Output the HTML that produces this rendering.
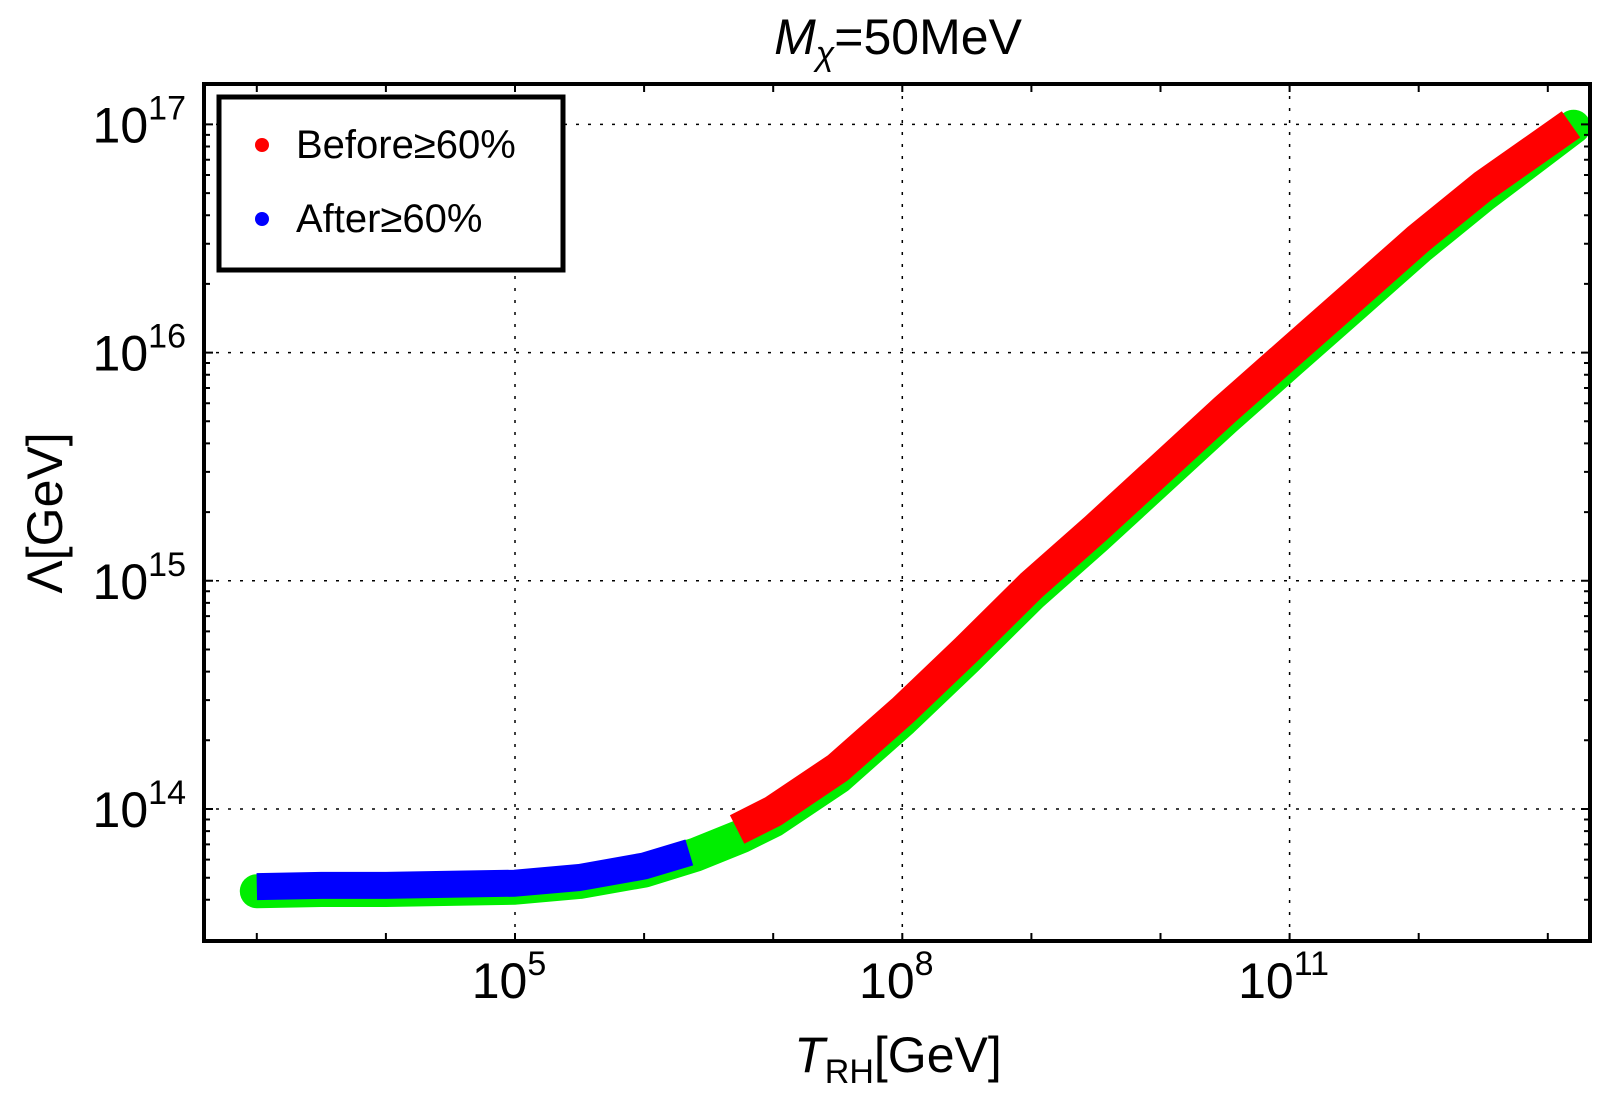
<!DOCTYPE html>
<html><head><meta charset="utf-8"><style>
body{margin:0;background:#fff;}
svg text{font-family:"Liberation Sans",sans-serif;fill:#000;}
</style></head><body>
<svg id="chart" width="1600" height="1104" viewBox="0 0 1600 1104" xmlns="http://www.w3.org/2000/svg">
<g id="grid"></g>
<g id="series"></g>
<g id="axes"></g>
<text x="898" y="54" text-anchor="middle" font-size="50"><tspan font-style="italic">M</tspan><tspan font-style="italic" font-size="34" dy="11">χ</tspan><tspan dy="-11">=50MeV</tspan></text>
<text x="898" y="1072" text-anchor="middle" font-size="50"><tspan font-style="italic">T</tspan><tspan font-size="34" dy="11">RH</tspan><tspan dy="-11">[GeV]</tspan></text>
<text transform="translate(62,513) rotate(-90)" text-anchor="middle" font-size="50">Λ[GeV]</text>
<g>
<rect x="219" y="97" width="344" height="173" fill="#fff" stroke="#000" stroke-width="5"/>
<circle cx="262" cy="145" r="7" fill="#ff0000"/>
<text x="296" y="158" font-size="40">Before≥60%</text>
<circle cx="262" cy="219" r="7" fill="#0000ff"/>
<text x="296" y="232" font-size="40">After≥60%</text>
</g>
</svg>
<script>
const greenLogT=[3.0,3.5,4.0,4.5,5.0,5.5,6.0,6.4,6.75,7.0,7.5,8.0,8.5,9.0,9.5,10.0,10.5,11.0,11.5,12.0,12.5,13.2];
const greenLogL=[13.64,13.645,13.645,13.65,13.655,13.68,13.73,13.8,13.88,13.95,14.14,14.39,14.66,14.94,15.19,15.45,15.71,15.96,16.21,16.46,16.69,16.99];
const blueLogT=[3.0,3.5,4.0,4.5,5.0,5.5,6.0,6.35];
const blueLogL=[13.66,13.665,13.665,13.67,13.675,13.70,13.75,13.81];
const redLogT=[6.72,7.0,7.5,8.0,8.5,9.0,9.5,10.0,10.5,11.0,11.5,12.0,12.5,13.18];
const redLogL=[13.91,13.99,14.18,14.43,14.70,14.98,15.23,15.49,15.75,16.0,16.25,16.5,16.73,17.0];
const xMajor=[3,4,5,6,7,8,9,10,11,12,13];
const xLabels=[5,8,11];
const yLabels=[14,15,16,17];
const L=204,R=1590,T=84,B=941;
const X=v=>515+(v-5)*129.1;
const Y=v=>809-(v-14)*228.2;
const NS="http://www.w3.org/2000/svg";
function mk(p,tag,a){const e=document.createElementNS(NS,tag);for(const k in a)e.setAttribute(k,a[k]);p.appendChild(e);return e;}
const grid=document.getElementById('grid'),axes=document.getElementById('axes'),ser=document.getElementById('series');
xLabels.forEach(v=>{const g=mk(grid,'line',{x1:X(v),x2:X(v),y1:T,y2:B,stroke:'#000','stroke-width':1.5,'stroke-dasharray':'3,9'});
});
yLabels.forEach(v=>{const g=mk(grid,'line',{x1:L,x2:R,y1:Y(v),y2:Y(v),stroke:'#000','stroke-width':1.5,'stroke-dasharray':'3,9'});
});
function path(xs,ys){return xs.map((v,i)=>(i?'L':'M')+X(v).toFixed(1)+','+Y(ys[i]).toFixed(1)).join('');}
const gp=mk(ser,'path',{d:path(greenLogT,greenLogL),fill:'none',stroke:'#00ee00','stroke-width':34,'stroke-linecap':'round','stroke-linejoin':'round'});

const bp=mk(ser,'path',{d:path(blueLogT,blueLogL),fill:'none',stroke:'#0000ff','stroke-width':27,'stroke-linejoin':'round'});

const rp=mk(ser,'path',{d:path(redLogT,redLogL),fill:'none',stroke:'#ff0000','stroke-width':32,'stroke-linejoin':'round'});

const fr=mk(axes,'rect',{x:L,y:T,width:R-L,height:B-T,fill:'none',stroke:'#000','stroke-width':4});

xMajor.forEach(v=>{const x=X(v);
const t=mk(axes,'path',{d:`M${x},${B}v-8M${x},${T}v8`,stroke:'#000','stroke-width':2});
});
for(let d=13;d<=17;d++){for(let m=1;m<=9;m++){const v=d+Math.log10(m);if(v<13.5||v>17.2)continue;const y=Y(v);const len=m===1?9:6;
const t=mk(axes,'path',{d:`M${L},${y}h${len}M${R},${y}h${-len}`,stroke:'#000','stroke-width':2});
}}
xLabels.forEach(v=>{const t=mk(axes,'text',{x:X(v)-6,y:998,'text-anchor':'middle','font-size':50});
t.innerHTML=`10<tspan font-size="34" dy="-23">${v}</tspan>`;
});
yLabels.forEach(v=>{const t=mk(axes,'text',{x:186,y:Y(v)+18,'text-anchor':'end','font-size':50});
t.innerHTML=`10<tspan font-size="34" dy="-23">${v}</tspan>`;
});
</script>
</body></html>
